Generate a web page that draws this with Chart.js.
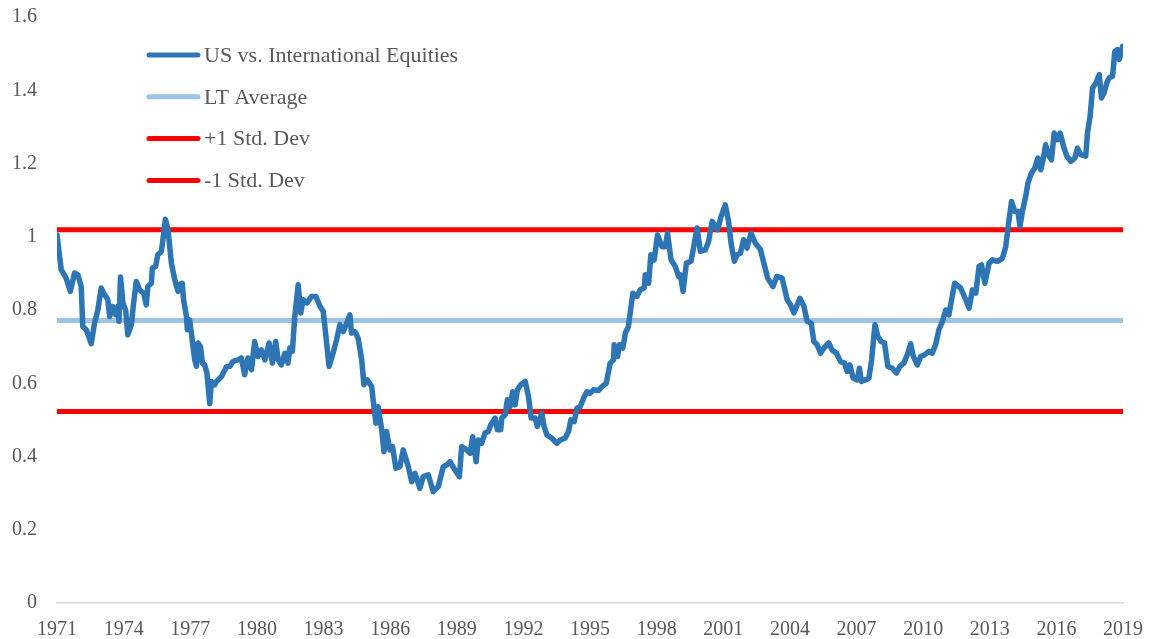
<!DOCTYPE html>
<html>
<head>
<meta charset="utf-8">
<title>US vs. International Equities</title>
<script src="https://cdn.jsdelivr.net/npm/chart.js@4.4.1/dist/chart.umd.min.js"></script>
<style>
  html, body { margin: 0; padding: 0; background: #fff; }
  #wrap { width: 1149px; height: 639px; }
</style>
</head>
<body>
<div id="wrap"><canvas id="ratioChart" width="1149" height="639"></canvas></div>
<script>
// US vs. international equities relative level
const dates = [
  1971.00, 1971.19, 1971.41, 1971.60, 1971.79, 1971.94, 1972.09, 1972.16, 1972.32, 1972.54,
  1972.69, 1972.84, 1972.99, 1973.14, 1973.29, 1973.37, 1973.49, 1973.64, 1973.74, 1973.79,
  1973.86, 1973.97, 1974.09, 1974.19, 1974.35, 1974.45, 1974.57, 1974.72, 1974.90, 1975.02,
  1975.09, 1975.25, 1975.29, 1975.44, 1975.54, 1975.70, 1975.77, 1975.88, 1976.00, 1976.15,
  1976.30, 1976.45, 1976.52, 1976.64, 1976.70, 1976.83, 1976.87, 1976.97, 1977.05, 1977.20,
  1977.28, 1977.35, 1977.46, 1977.55, 1977.65, 1977.75, 1977.88, 1977.95, 1978.10, 1978.18,
  1978.40, 1978.63, 1978.78, 1978.93, 1979.15, 1979.30, 1979.45, 1979.60, 1979.76, 1979.90,
  1980.05, 1980.20, 1980.36, 1980.55, 1980.70, 1980.85, 1980.96, 1981.10, 1981.26, 1981.40,
  1981.48, 1981.60, 1981.70, 1981.86, 1981.98, 1982.08, 1982.26, 1982.46, 1982.66, 1982.84,
  1982.99, 1983.11, 1983.25, 1983.43, 1983.59, 1983.74, 1983.89, 1984.04, 1984.19, 1984.26,
  1984.41, 1984.56, 1984.72, 1984.82, 1984.97, 1985.17, 1985.27, 1985.36, 1985.46, 1985.62,
  1985.72, 1985.84, 1985.99, 1986.11, 1986.26, 1986.44, 1986.59, 1986.82, 1986.97, 1987.12,
  1987.34, 1987.49, 1987.72, 1987.94, 1988.17, 1988.39, 1988.55, 1988.70, 1988.92, 1989.12,
  1989.22, 1989.45, 1989.60, 1989.72, 1989.87, 1989.97, 1990.12, 1990.27, 1990.42, 1990.53,
  1990.73, 1990.83, 1990.98, 1991.03, 1991.18, 1991.28, 1991.40, 1991.52, 1991.63, 1991.73,
  1991.88, 1992.08, 1992.23, 1992.35, 1992.53, 1992.63, 1992.83, 1992.93, 1993.06, 1993.28,
  1993.51, 1993.66, 1993.88, 1994.03, 1994.14, 1994.29, 1994.41, 1994.56, 1994.71, 1994.86,
  1995.01, 1995.16, 1995.38, 1995.54, 1995.73, 1995.91, 1996.06, 1996.09, 1996.24, 1996.33,
  1996.48, 1996.59, 1996.73, 1996.81, 1996.93, 1997.11, 1997.26, 1997.44, 1997.49, 1997.64,
  1997.74, 1997.89, 1998.04, 1998.24, 1998.39, 1998.49, 1998.65, 1998.84, 1998.99, 1999.07,
  1999.19, 1999.34, 1999.55, 1999.67, 1999.82, 1999.97, 2000.19, 2000.34, 2000.50, 2000.64,
  2000.75, 2000.90, 2001.09, 2001.24, 2001.35, 2001.50, 2001.62, 2001.77, 2001.92, 2002.07,
  2002.25, 2002.44, 2002.67, 2002.82, 2003.00, 2003.24, 2003.42, 2003.65, 2003.88, 2004.03,
  2004.18, 2004.45, 2004.63, 2004.78, 2004.96, 2005.08, 2005.23, 2005.38, 2005.53, 2005.75,
  2005.90, 2006.10, 2006.28, 2006.46, 2006.58, 2006.70, 2006.85, 2007.03, 2007.13, 2007.22,
  2007.40, 2007.56, 2007.68, 2007.83, 2007.96, 2008.11, 2008.26, 2008.41, 2008.61, 2008.80,
  2008.95, 2009.13, 2009.29, 2009.44, 2009.56, 2009.74, 2009.89, 2010.07, 2010.26, 2010.41,
  2010.56, 2010.71, 2010.87, 2011.02, 2011.16, 2011.24, 2011.42, 2011.69, 2011.92, 2012.07,
  2012.22, 2012.37, 2012.52, 2012.63, 2012.78, 2012.97, 2013.13, 2013.35, 2013.57, 2013.72,
  2013.83, 2013.98, 2014.13, 2014.27, 2014.36, 2014.47, 2014.62, 2014.72, 2014.88, 2015.03,
  2015.17, 2015.30, 2015.40, 2015.52, 2015.63, 2015.78, 2015.90, 2016.05, 2016.17, 2016.32,
  2016.47, 2016.65, 2016.83, 2016.95, 2017.10, 2017.32, 2017.40, 2017.52, 2017.63, 2017.78,
  2017.93, 2018.03, 2018.15, 2018.27, 2018.38, 2018.53, 2018.63, 2018.75, 2018.83, 2018.98
];

const ratio = [
  1.005, 0.910, 0.887, 0.851, 0.901, 0.896, 0.864, 0.755, 0.746, 0.708,
  0.764, 0.800, 0.860, 0.842, 0.828, 0.782, 0.810, 0.787, 0.810, 0.769,
  0.890, 0.819, 0.800, 0.732, 0.760, 0.819, 0.878, 0.855, 0.846, 0.814,
  0.864, 0.873, 0.914, 0.919, 0.951, 0.960, 0.992, 1.048, 1.019, 0.928,
  0.883, 0.851, 0.869, 0.873, 0.828, 0.782, 0.746, 0.773, 0.737, 0.664,
  0.646, 0.710, 0.700, 0.655, 0.650, 0.628, 0.544, 0.605, 0.596, 0.605,
  0.618, 0.645, 0.646, 0.660, 0.664, 0.669, 0.623, 0.669, 0.637, 0.714,
  0.673, 0.691, 0.664, 0.710, 0.655, 0.714, 0.664, 0.650, 0.682, 0.655,
  0.696, 0.687, 0.778, 0.869, 0.792, 0.828, 0.819, 0.837, 0.837, 0.810,
  0.796, 0.728, 0.646, 0.682, 0.719, 0.760, 0.741, 0.764, 0.787, 0.737,
  0.741, 0.723, 0.664, 0.596, 0.609, 0.591, 0.536, 0.491, 0.536, 0.473,
  0.413, 0.468, 0.418, 0.427, 0.368, 0.372, 0.418, 0.372, 0.331, 0.354,
  0.313, 0.345, 0.350, 0.304, 0.318, 0.372, 0.377, 0.386, 0.363, 0.345,
  0.427, 0.418, 0.409, 0.454, 0.386, 0.445, 0.436, 0.464, 0.468, 0.486,
  0.505, 0.473, 0.473, 0.505, 0.514, 0.555, 0.536, 0.577, 0.541, 0.582,
  0.596, 0.605, 0.564, 0.505, 0.505, 0.482, 0.518, 0.482, 0.459, 0.450,
  0.436, 0.445, 0.450, 0.468, 0.500, 0.495, 0.532, 0.536, 0.559, 0.577,
  0.573, 0.582, 0.580, 0.591, 0.600, 0.655, 0.664, 0.705, 0.673, 0.705,
  0.696, 0.737, 0.755, 0.792, 0.846, 0.837, 0.855, 0.860, 0.896, 0.873,
  0.951, 0.937, 1.005, 0.973, 0.973, 1.010, 0.937, 0.919, 0.892, 0.896,
  0.851, 0.928, 0.933, 0.973, 1.024, 0.960, 0.964, 0.987, 1.042, 1.028,
  1.019, 1.055, 1.087, 1.042, 0.983, 0.933, 0.951, 0.955, 0.992, 0.969,
  1.010, 0.983, 0.966, 0.930, 0.887, 0.864, 0.892, 0.887, 0.828, 0.814,
  0.792, 0.832, 0.810, 0.769, 0.764, 0.714, 0.705, 0.682, 0.696, 0.710,
  0.691, 0.682, 0.659, 0.655, 0.632, 0.650, 0.614, 0.609, 0.641, 0.605,
  0.609, 0.614, 0.664, 0.760, 0.728, 0.714, 0.710, 0.646, 0.641, 0.628,
  0.646, 0.655, 0.678, 0.708, 0.673, 0.650, 0.673, 0.678, 0.687, 0.682,
  0.705, 0.746, 0.769, 0.800, 0.787, 0.814, 0.873, 0.860, 0.828, 0.805,
  0.855, 0.846, 0.919, 0.923, 0.873, 0.928, 0.937, 0.933, 0.941, 0.973,
  1.028, 1.096, 1.069, 1.069, 1.028, 1.069, 1.110, 1.147, 1.174, 1.188,
  1.215, 1.183, 1.210, 1.251, 1.224, 1.210, 1.283, 1.265, 1.283, 1.247,
  1.220, 1.206, 1.215, 1.242, 1.224, 1.220, 1.283, 1.329, 1.406, 1.420,
  1.443, 1.379, 1.393, 1.420, 1.434, 1.438, 1.506, 1.511, 1.484, 1.520
];

const ltAverage = 0.771;
const plusOneSd = 1.019;
const minusOneSd = 0.523;

const xTicks = [1971, 1974, 1977, 1980, 1983, 1986, 1989, 1992, 1995, 1998, 2001, 2004, 2007, 2010, 2013, 2016, 2019];
const yTicks = [0, 0.2, 0.4, 0.6, 0.8, 1, 1.2, 1.4, 1.6];

const seriesLabels = ['US vs. International Equities', 'LT Average', '+1 Std. Dev', '-1 Std. Dev'];

const textColor = '#595959';
const serif = '"Liberation Serif", "Times New Roman", serif';

const firstDate = dates[0];
const lastDate = dates[dates.length - 1];
const flatLine = v => [{ x: firstDate, y: v }, { x: lastDate, y: v }];

function lineStyle(color, width) {
  return {
    borderColor: color,
    backgroundColor: color,
    borderWidth: width,
    pointRadius: 0,
    pointHoverRadius: 0,
    tension: 0,
    fill: false,
    borderCapStyle: 'round',
    borderJoinStyle: 'round'
  };
}

// legend sits inside the plot, stacked at top left
const insideLegend = {
  id: 'insideLegend',
  afterDraw(chart) {
    const ctx = chart.ctx;
    ctx.save();
    ctx.font = '22px ' + serif;
    ctx.textBaseline = 'middle';
    ctx.lineCap = 'round';
    chart.data.datasets.forEach((ds, i) => {
      const y = 55 + i * 41.8;
      ctx.strokeStyle = ds.borderColor;
      ctx.lineWidth = 5;
      ctx.beginPath();
      ctx.moveTo(149, y);
      ctx.lineTo(198, y);
      ctx.stroke();
      ctx.fillStyle = textColor;
      ctx.fillText(ds.label, 204, y + 1);
    });
    ctx.restore();
  }
};

// keep the plot box fixed: no extra room for edge labels
function fixPadding(s) {
  s.paddingLeft = 0;
  s.paddingRight = 0;
  s.paddingTop = 0;
  s.paddingBottom = 0;
}

const ctx = document.getElementById('ratioChart').getContext('2d');
new Chart(ctx, {
  type: 'line',
  data: {
    datasets: [
      { label: seriesLabels[0], data: dates.map((d, i) => ({ x: d, y: ratio[i] })), ...lineStyle('#2e75b6', 5.5) },
      { label: seriesLabels[1], data: flatLine(ltAverage), ...lineStyle('#9dc3e6', 5) },
      { label: seriesLabels[2], data: flatLine(plusOneSd), ...lineStyle('#ff0000', 5) },
      { label: seriesLabels[3], data: flatLine(minusOneSd), ...lineStyle('#ff0000', 5) }
    ]
  },
  options: {
    responsive: false,
    animation: false,
    layout: { padding: { top: 17, right: 26, bottom: 0, left: 0 } },
    plugins: {
      legend: { display: false },
      tooltip: { enabled: false }
    },
    scales: {
      x: {
        type: 'linear',
        min: 1971,
        max: 2019,
        afterBuildTicks: s => { s.ticks = xTicks.map(v => ({ value: v })); },
        afterFit: s => { s.height = 36; fixPadding(s); },
        grid: { display: false, drawTicks: false },
        border: { display: true, color: '#d9d9d9', width: 1.5 },
        ticks: {
          color: textColor,
          font: { family: serif, size: 20 },
          padding: 15,
          maxRotation: 0,
          autoSkip: false,
          callback: v => String(v)
        }
      },
      y: {
        min: 0,
        max: 1.6,
        afterBuildTicks: s => { s.ticks = yTicks.map(v => ({ value: v })); },
        afterFit: s => { s.width = 57; fixPadding(s); },
        grid: { display: false, drawTicks: false },
        border: { display: false },
        ticks: {
          color: textColor,
          font: { family: serif, size: 20 },
          padding: 20,
          callback: v => String(parseFloat(v.toFixed(1)))
        }
      }
    }
  },
  plugins: [insideLegend]
});
</script>
</body>
</html>
